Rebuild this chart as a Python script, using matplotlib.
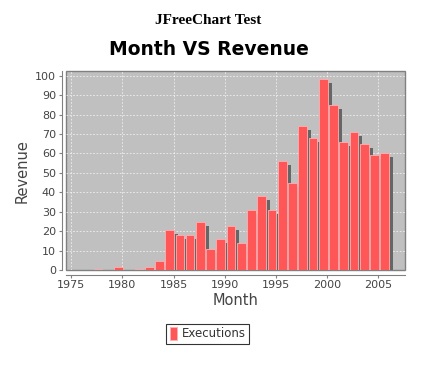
import matplotlib
matplotlib.use("Agg")
import matplotlib.pyplot as plt
from matplotlib.transforms import offset_copy

years = list(range(1977, 2006))
executions = [1, 0, 2, 0, 1, 2, 5, 21, 18, 18, 25, 11, 16, 23, 14,
              31, 38, 31, 56, 45, 74, 68, 98, 85, 66, 71, 65, 59, 60]
xticks = [1975, 1980, 1985, 1990, 1995, 2000, 2005]
yticks = list(range(0, 101, 10))

fig = plt.figure(figsize=(4.44, 3.67), dpi=100)
ax = fig.add_axes([0.148, 0.263, 0.764, 0.544])

ax.set_facecolor('#C0C0C0')
ax.patch.set_edgecolor('#808080')
ax.patch.set_linewidth(1)

x = [y + 0.62 for y in years]
# shadow first, shifted 4px right and 4px down
shadow = offset_copy(ax.transData, fig=fig, x=4, y=-4, units='dots')
ax.bar(x, executions, width=0.85, color='#666666', transform=shadow, zorder=2)
ax.bar(x, executions, width=0.85, color='#FF5757', edgecolor='#FFB0B0',
       linewidth=0.6, zorder=3, label='Executions')

ax.set_xlim(1974.47, 2007.6)
ax.set_ylim(0, 102.4)
ax.set_xticks(xticks)
ax.set_yticks(yticks)
ax.grid(color='white', linestyle=(0, (2, 2)), linewidth=0.6, alpha=0.75)
ax.set_axisbelow(True)

for s in ['top', 'right']:
    ax.spines[s].set_visible(False)
for s in ['left', 'bottom']:
    ax.spines[s].set_position(('outward', 3))
    ax.spines[s].set_color('#808080')
ax.tick_params(colors='#808080', length=2, width=0.8, labelsize=8,
               labelcolor='#444444', pad=2)

ax.set_xlabel('Month', fontsize=10.5, color='#444444', labelpad=2)
ax.set_ylabel('Revenue', fontsize=10.5, color='#444444', labelpad=4)

fig.text(0.47, 0.943, 'JFreeChart Test', ha='center', va='center',
         family='Liberation Serif', fontweight='bold', fontsize=11)
fig.text(0.47, 0.866, 'Month VS Revenue', ha='center', va='center',
         family='DejaVu Sans', fontweight='bold', fontsize=13.5)

leg = fig.legend(loc='center', bbox_to_anchor=(0.468, 0.09), fontsize=8.5,
                 frameon=True, fancybox=False, handlelength=0.6,
                 handleheight=1.2, handletextpad=0.4, borderpad=0.3)
leg.get_frame().set_edgecolor('black')
leg.get_frame().set_linewidth(0.8)
for t in leg.get_texts():
    t.set_color('#333333')

fig.savefig('out.png', dpi=100)
